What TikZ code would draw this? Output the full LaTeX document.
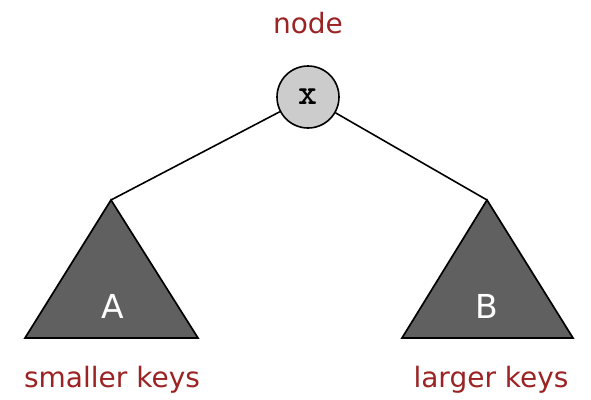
\documentclass[tikz,border=0pt]{standalone}
\usepackage{fontspec}
\setmainfont{DejaVu Sans}
\definecolor{lbl}{RGB}{155,35,35}
\definecolor{trifill}{RGB}{96,96,96}
\definecolor{nodefill}{RGB}{204,204,204}
\begin{document}
\begin{tikzpicture}[x=1pt,y=-1pt,
  lbltext/.style={text=lbl,font=\fontsize{28}{30}\selectfont,inner sep=0pt},
  tri/.style={draw=black,fill=trifill,line width=1.7pt,line join=miter},
  trilbl/.style={text=white,font=\fontsize{33}{35}\selectfont,inner sep=0pt},
  edge/.style={draw=black,line width=1.6pt}]
\useasboundingbox (0,0) rectangle (591,399);
% top node
\node[circle,draw=black,fill=nodefill,line width=1.6pt,minimum size=62pt,inner sep=0pt,
  font=\ttfamily\bfseries\fontsize{36}{36}\selectfont] (x) at (308,97) {x};
\node[lbltext,anchor=base] (nodelbl) at (308,33) {node};
% triangle apex coordinates
\coordinate (la) at (111,200);
\coordinate (ra) at (487,200);
\coordinate (lbl) at (25,338);
\coordinate (lbr) at (198,338);
\coordinate (rbl) at (402,338);
\coordinate (rbr) at (573,338);
\draw[tri] (la) -- (lbr) -- (lbl) -- cycle;
\draw[tri] (ra) -- (rbr) -- (rbl) -- cycle;
\draw[edge] (x) -- (la);
\draw[edge] (x) -- (ra);
\node[trilbl,anchor=base] (A) at (113,318) {A};
\node[trilbl,anchor=base] (B) at (487,318) {B};
\node[lbltext,anchor=base] (small) at (112,387) {smaller keys};
\node[lbltext,anchor=base] (large) at (491,387) {larger keys};
\end{tikzpicture}
\end{document}
